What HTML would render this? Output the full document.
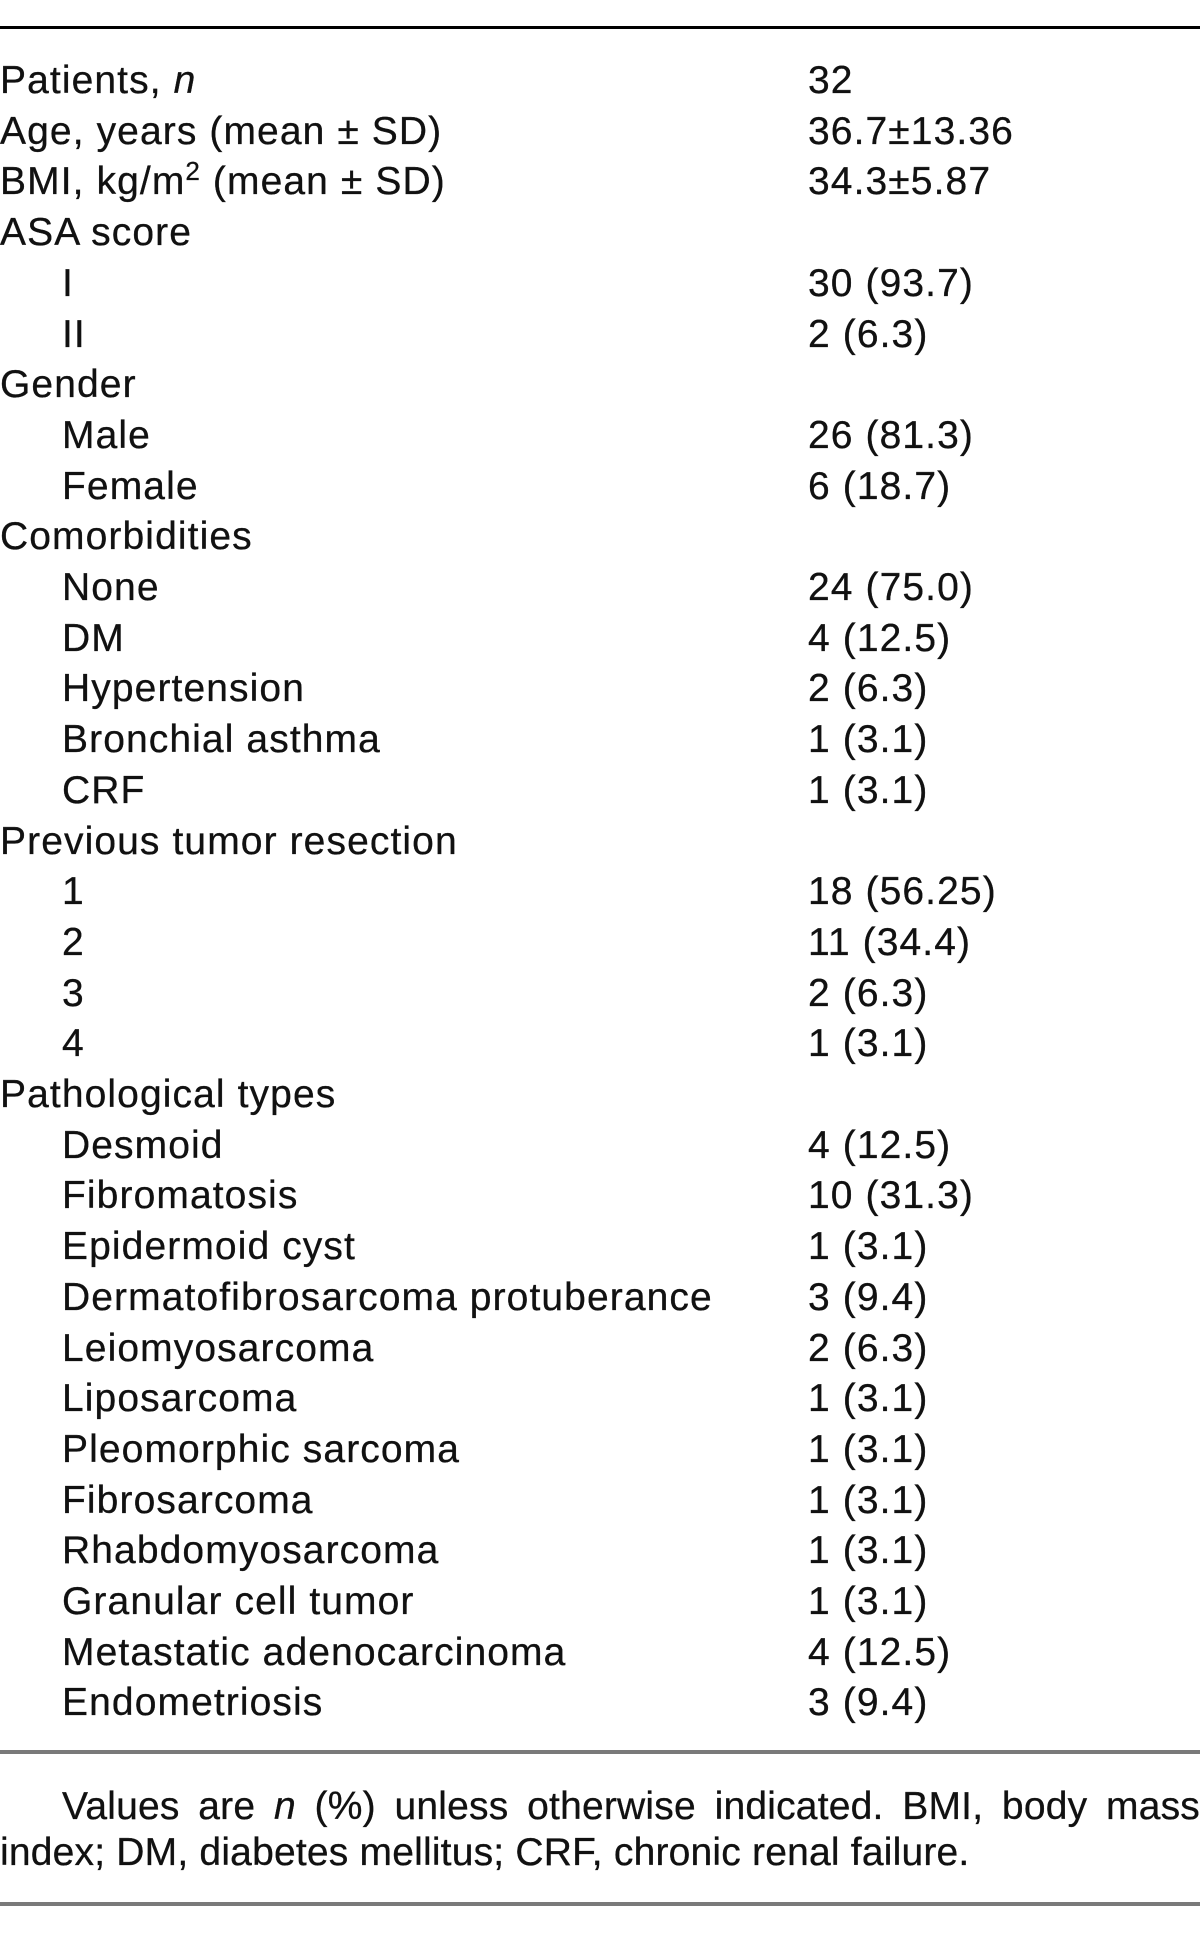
<!DOCTYPE html>
<html><head><meta charset="utf-8"><style>
html,body{margin:0;padding:0;background:#fff;}
body{width:1200px;height:1950px;position:relative;overflow:hidden;font-family:"Liberation Sans",sans-serif;color:#111;font-size:39px;letter-spacing:1.1px;-webkit-text-stroke:0.3px #111;}
.r{position:absolute;left:0;height:50px;line-height:50px;white-space:nowrap;}
.v{position:absolute;left:808px;height:50px;line-height:50px;white-space:nowrap;}
.in{left:62px;}
.line{position:absolute;left:0;width:1200px;}
.fn{position:absolute;left:0;width:1200px;line-height:46px;letter-spacing:0.2px;}
</style></head><body>
<div class="line" style="top:26px;height:3px;background:#000"></div>
<div id="rows"></div>
<div class="line" style="top:1750px;height:4px;background:#7a7a7a"></div>
<div class="fn" style="top:1784px;text-align:justify;text-align-last:justify;text-indent:62px;">Values are <i>n</i> (%) unless otherwise indicated. BMI, body mass</div>
<div class="fn" style="top:1830px;">index; DM, diabetes mellitus; CRF, chronic renal failure.</div>
<div class="line" style="top:1902px;height:4px;background:#7a7a7a"></div>
<script>
var d=[["Patients, <i>n</i>","32",0],["Age, years (mean ± SD)","36.7±13.36",0],["BMI, kg/m<sup style='font-size:26px;line-height:0'>2</sup> (mean ± SD)","34.3±5.87",0],["ASA score","",0],["I","30 (93.7)",1],["II","2 (6.3)",1],["Gender","",0],["Male","26 (81.3)",1],["Female","6 (18.7)",1],["Comorbidities","",0],["None","24 (75.0)",1],["DM","4 (12.5)",1],["Hypertension","2 (6.3)",1],["Bronchial asthma","1 (3.1)",1],["CRF","1 (3.1)",1],["Previous tumor resection","",0],["1","18 (56.25)",1],["2","11 (34.4)",1],["3","2 (6.3)",1],["4","1 (3.1)",1],["Pathological types","",0],["Desmoid","4 (12.5)",1],["Fibromatosis","10 (31.3)",1],["Epidermoid cyst","1 (3.1)",1],["Dermatofibrosarcoma protuberance","3 (9.4)",1],["Leiomyosarcoma","2 (6.3)",1],["Liposarcoma","1 (3.1)",1],["Pleomorphic sarcoma","1 (3.1)",1],["Fibrosarcoma","1 (3.1)",1],["Rhabdomyosarcoma","1 (3.1)",1],["Granular cell tumor","1 (3.1)",1],["Metastatic adenocarcinoma","4 (12.5)",1],["Endometriosis","3 (9.4)",1]];
var h="";for(var i=0;i<d.length;i++){var t=81+i*50.7-25;h+='<div class="r'+(d[i][2]?' in':'')+'" style="top:'+t+'px">'+d[i][0]+'</div><div class="v" style="top:'+t+'px">'+d[i][1]+'</div>';}
document.getElementById("rows").innerHTML=h;
</script>
</body></html>
